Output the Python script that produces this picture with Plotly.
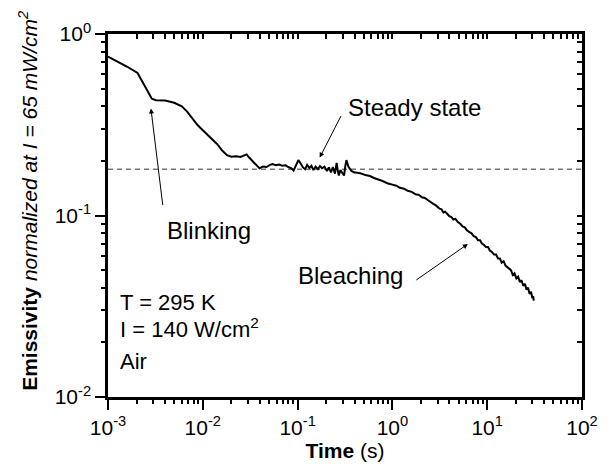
import plotly.graph_objects as go

# ---- data ----
time_s = [0.001, 0.0013, 0.0016, 0.00205, 0.0025, 0.0029, 0.0032, 0.004, 0.005, 0.006,
          0.0068, 0.0077, 0.0088, 0.010, 0.0115, 0.013, 0.0142, 0.016, 0.018, 0.020,
          0.0225, 0.025, 0.027, 0.029, 0.031, 0.034, 0.037, 0.0396, 0.043, 0.047,
          0.051, 0.0545, 0.059, 0.064, 0.069, 0.0745, 0.080, 0.086, 0.0907, 0.095,
          0.102, 0.108, 0.114, 0.120, 0.126, 0.133, 0.140, 0.147, 0.155, 0.164,
          0.172, 0.181, 0.192, 0.204, 0.214, 0.225, 0.236, 0.248, 0.258, 0.264,
          0.272, 0.283, 0.295, 0.309, 0.318, 0.327, 0.345, 0.37, 0.392, 0.42,
          0.46, 0.52, 0.58, 0.64, 0.70, 0.76, 0.83, 0.9,
          1.0, 1.1, 1.2, 1.3, 1.45, 1.6, 1.75, 1.9, 2.05, 2.2,
          2.4, 2.55, 2.7, 2.85, 3.0, 3.15, 3.3, 3.45, 3.6, 3.8,
          4.0, 4.2, 4.4, 4.6, 4.9, 5.2, 5.5, 5.8, 6.1, 6.5,
          6.8, 7.2, 7.6, 8.0, 8.4, 8.8, 9.2, 9.7, 10.2, 10.7,
          11.2, 11.8, 12.4, 13.0, 13.6, 14.2, 14.9, 15.6, 16.3, 17.0,
          17.8, 18.6, 19.4, 20.3, 21.2, 22.1, 23.0, 24.0, 25.0, 26.0,
          27.0, 28.0, 29.0, 30.0, 30.5, 31.0]
emissivity = [0.75, 0.70, 0.66, 0.61, 0.51, 0.44, 0.432, 0.43, 0.418, 0.40,
              0.375, 0.345, 0.315, 0.295, 0.275, 0.258, 0.247, 0.228, 0.215, 0.211,
              0.212, 0.210, 0.214, 0.217, 0.208, 0.198, 0.190, 0.182, 0.186, 0.185,
              0.190, 0.192, 0.189, 0.191, 0.188, 0.189, 0.185, 0.182, 0.177, 0.186,
              0.202, 0.193, 0.184, 0.180, 0.190, 0.183, 0.188, 0.178, 0.186, 0.180,
              0.187, 0.182, 0.186, 0.176, 0.184, 0.173, 0.185, 0.170, 0.195, 0.180,
              0.166, 0.178, 0.172, 0.166, 0.186, 0.202, 0.185, 0.176, 0.173, 0.172,
              0.171, 0.167, 0.165, 0.161, 0.159, 0.156, 0.153, 0.150,
              0.148, 0.146, 0.142, 0.141, 0.137, 0.135, 0.131, 0.130, 0.126, 0.125,
              0.121, 0.119, 0.116, 0.114, 0.111, 0.109, 0.108, 0.104, 0.105, 0.102,
              0.099, 0.098, 0.095, 0.096, 0.092, 0.090, 0.087, 0.086, 0.083, 0.081,
              0.080, 0.077, 0.076, 0.073, 0.073, 0.070, 0.069, 0.067, 0.067, 0.064,
              0.063, 0.061, 0.061, 0.058, 0.058, 0.055, 0.056, 0.053, 0.052, 0.051,
              0.050, 0.047, 0.048, 0.045, 0.046, 0.043, 0.044, 0.041, 0.042, 0.039,
              0.040, 0.037, 0.038, 0.035, 0.036, 0.034]

steady_level = 0.18
steady_x = [1e-3, 1e2]

x_tickvals = [1e-3, 1e-2, 1e-1, 1e0, 1e1, 1e2]
x_ticktext = ["10<sup>-3</sup>", "10<sup>-2</sup>", "10<sup>-1</sup>",
              "10<sup>0</sup>", "10<sup>1</sup>", "10<sup>2</sup>"]
y_tickvals = [1e-2, 1e-1, 1e0]
y_ticktext = ["10<sup>-2</sup>", "10<sup>-1</sup>", "10<sup>0</sup>"]

# minor tick positions (2..9 within each decade)
x_minor = [m * d for d in x_tickvals[:-1] for m in range(2, 10)]
y_minor = [m * d for d in y_tickvals[:-1] for m in range(2, 10)]

FONT = "Liberation Sans, Arial, sans-serif"

fig = go.Figure()
fig.add_trace(go.Scatter(x=steady_x, y=[steady_level, steady_level], mode="lines",
                         line=dict(color="#333333", width=1, dash="5px,4px"),
                         showlegend=False, hoverinfo="skip"))
fig.add_trace(go.Scatter(x=time_s, y=emissivity, mode="lines",
                         line=dict(color="black", width=2),
                         showlegend=False))
# empty traces so the extra tick axes are drawn
fig.add_trace(go.Scatter(x=[], y=[], xaxis="x2", yaxis="y2", showlegend=False))
fig.add_trace(go.Scatter(x=[], y=[], xaxis="x3", yaxis="y3", showlegend=False))

base = dict(type="log", showgrid=False, zeroline=False, tickcolor="black", tickwidth=2)

fig.update_layout(
    width=610, height=472,
    margin=dict(l=108, r=16, t=34, b=68),
    paper_bgcolor="white", plot_bgcolor="white",
    font=dict(family=FONT, color="black", size=21),
    # main axes: major ticks + labels
    xaxis=dict(**base, range=[-3, 2], showline=True, linecolor="black", linewidth=2.5,
               tickmode="array", tickvals=x_tickvals, ticktext=x_ticktext,
               ticks="outside", ticklen=10, tickfont=dict(size=21),
               title=dict(text="<b>Time</b> (s)", font=dict(size=21), standoff=6)),
    yaxis=dict(**base, range=[-2, 0], showline=True, linecolor="black", linewidth=2.5,
               tickmode="array", tickvals=y_tickvals, ticktext=y_ticktext,
               ticks="outside", ticklen=10, tickfont=dict(size=21)),
    # top / right frame with inward ticks
    xaxis2=dict(**base, range=[-3, 2], overlaying="x", side="top", anchor="y2",
                showline=True, linecolor="black", linewidth=2.5,
                tickmode="array", tickvals=x_tickvals + x_minor, ticks="inside",
                ticklen=5, showticklabels=False),
    yaxis2=dict(**base, range=[-2, 0], overlaying="y", side="right", anchor="x2",
                showline=True, linecolor="black", linewidth=2.5,
                tickmode="array", tickvals=y_tickvals + y_minor, ticks="inside",
                ticklen=5, showticklabels=False),
    # minor outward ticks on bottom / left
    xaxis3=dict(**base, range=[-3, 2], overlaying="x", side="bottom", anchor="y3",
                showline=False, tickmode="array", tickvals=x_minor, ticks="outside",
                ticklen=6, showticklabels=False),
    yaxis3=dict(**base, range=[-2, 0], overlaying="y", side="left", anchor="x3",
                showline=False, tickmode="array", tickvals=y_minor, ticks="outside",
                ticklen=6, showticklabels=False),
)

annotations = [
    # y axis title
    dict(text="<b>Emissivity</b> <i>normalized at I = 65 mW/cm<sup>2</sup></i>",
         xref="paper", yref="paper", x=-0.169, y=0.54, textangle=-90,
         xanchor="center", yanchor="middle", showarrow=False, font=dict(size=21)),
    # labels
    dict(text="Steady state", xref="paper", yref="paper", x=0.646, y=0.841,
         showarrow=False, font=dict(size=24)),
    dict(text="Blinking", xref="paper", yref="paper", x=0.121, y=0.459,
         showarrow=False, font=dict(size=24)),
    dict(text="Bleaching", xref="paper", yref="paper", x=0.512, y=0.292,
         showarrow=False, font=dict(size=24)),
    dict(text="T = 295 K", xref="paper", yref="paper", x=0.0206, y=0.2216,
         xanchor="left", showarrow=False, font=dict(size=22)),
    dict(text="I = 140 W/cm<sup>2</sup>", xref="paper", yref="paper", x=0.0206, y=0.145,
         xanchor="left", showarrow=False, font=dict(size=22)),
    dict(text="Air", xref="paper", yref="paper", x=0.0206, y=0.057,
         xanchor="left", showarrow=False, font=dict(size=22)),
    # arrows (head in data coords, tail in pixel offsets)
    dict(text="", x=-0.767, y=-0.681, xref="x", yref="y", ax=22, ay=-43,
         showarrow=True, arrowhead=2, arrowsize=1, arrowwidth=1, arrowcolor="black",
         standoff=0),
    dict(text="", x=-2.547, y=-0.411, xref="x", yref="y", ax=12, ay=98,
         showarrow=True, arrowhead=2, arrowsize=1, arrowwidth=1, arrowcolor="black",
         standoff=0),
    dict(text="", x=0.796, y=-1.157, xref="x", yref="y", ax=-53, ay=37,
         showarrow=True, arrowhead=2, arrowsize=1, arrowwidth=1, arrowcolor="black",
         standoff=0),
]
fig.update_layout(annotations=annotations)

fig.write_html("out.html")
